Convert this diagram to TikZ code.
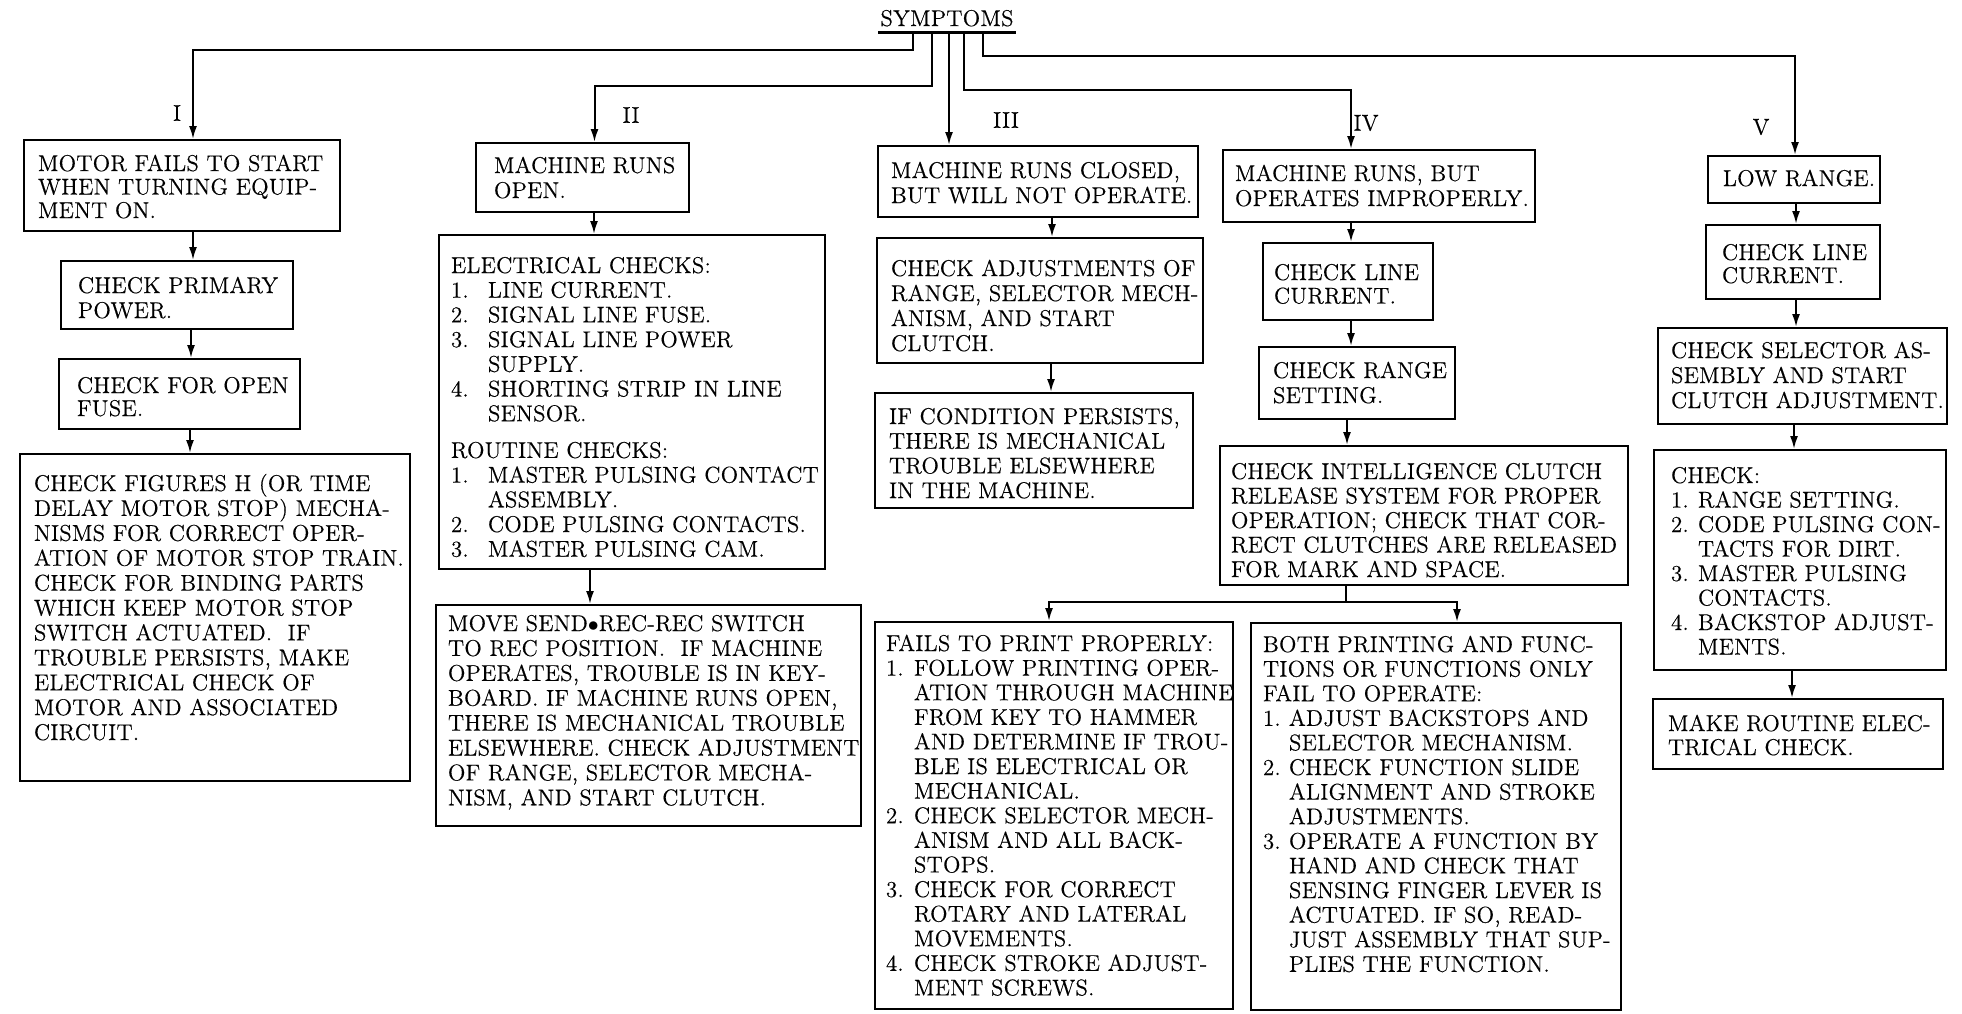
\documentclass[tikz,border=0pt]{standalone}
\usepackage{fontspec}
\setmainfont{Latin Modern Roman}[FakeBold=0.4, LetterSpace=1.2]
\usetikzlibrary{arrows.meta}
\newdimen\PX \PX=0.5pt
\newlength\ind
% W H dx dy(first baseline) baselineskip lines
\newcommand{\bt}[6]{\parbox[c][#2\PX][t]{#1\PX}{\fontsize{11.4pt}{#5\PX}\selectfont\vspace*{\dimexpr#4\PX-0.7\baselineskip\relax}\hspace*{#3\PX}\begin{tabular}[t]{@{}l@{}}#6\end{tabular}}}
\newcommand{\nm}[1]{\makebox[\ind][l]{#1}}
\newcommand{\cn}{\hspace*{\ind}}
\begin{document}
\begin{tikzpicture}[x=0.5pt,y=-0.5pt,
  bx/.style={draw, line width=1pt, inner sep=0pt, anchor=north west},
  arr/.style={line width=1pt, -{Latex[length=6.5pt,width=4pt]}},
  ln/.style={line width=1pt},
  lbl/.style={font=\fontsize{11.4pt}{13pt}\selectfont, inner sep=0pt}]
\useasboundingbox (0,0) rectangle (1962,1013);

% title
\node[lbl, anchor=base, minimum width=137\PX, text depth=0pt, inner ysep=6\PX] (sym) at (947,26) {SYMPTOMS};
\draw[line width=1.4pt] (sym.south west) -- (sym.south east);

% column I
\node[bx] (mot) at (23,139) {\bt{316}{91}{14}{31}{23.5}{MOTOR FAILS TO START\\WHEN TURNING EQUIP-\\MENT ON.}};
\node[bx] (pow) at (60,260) {\bt{232}{68}{17}{32}{25}{CHECK PRIMARY\\POWER.}};
\node[bx] (fuse) at (58,358) {\bt{241}{70}{18}{34}{23}{CHECK FOR OPEN\\FUSE.}};
\node[bx] (fig) at (19,453) {\bt{390}{327}{14}{37}{24.9}{CHECK FIGURES H (OR TIME\\DELAY MOTOR STOP) MECHA-\\NISMS FOR CORRECT OPER-\\ATION OF MOTOR STOP TRAIN.\\CHECK FOR BINDING PARTS\\WHICH KEEP MOTOR STOP\\SWITCH ACTUATED.\ \ IF\\TROUBLE PERSISTS, MAKE\\ELECTRICAL CHECK OF\\MOTOR AND ASSOCIATED\\CIRCUIT.}};

% column II
\node[bx] (open) at (475,142) {\bt{213}{69}{18}{30}{25}{MACHINE RUNS\\OPEN.}};
\setlength\ind{37\PX}
\node[bx] (elec) at (438,234) {\bt{386}{334}{12}{38}{24.7}{ELECTRICAL CHECKS:\\\nm{1.}LINE CURRENT.\\\nm{2.}SIGNAL LINE FUSE.\\\nm{3.}SIGNAL LINE POWER\\\cn SUPPLY.\\\nm{4.}SHORTING STRIP IN LINE\\\cn SENSOR.\\[12\PX]ROUTINE CHECKS:\\\nm{1.}MASTER PULSING CONTACT\\\cn ASSEMBLY.\\\nm{2.}CODE PULSING CONTACTS.\\\nm{3.}MASTER PULSING CAM.}};
\node[bx] (move) at (435,604) {\bt{425}{221}{12}{26}{24.9}{MOVE SEND$\bullet$REC-REC SWITCH\\TO REC POSITION.\ \ IF MACHINE\\OPERATES, TROUBLE IS IN KEY-\\BOARD. IF MACHINE RUNS OPEN,\\THERE IS MECHANICAL TROUBLE\\ELSEWHERE. CHECK ADJUSTMENT\\OF RANGE, SELECTOR MECHA-\\NISM, AND START CLUTCH.}};

% column III
\node[bx] (closed) at (877,145) {\bt{320}{71}{13}{32}{25}{MACHINE RUNS CLOSED,\\BUT WILL NOT OPERATE.}};
\node[bx] (adj) at (876,237) {\bt{326}{125}{14}{38}{25}{CHECK ADJUSTMENTS OF\\RANGE, SELECTOR MECH-\\ANISM, AND START\\CLUTCH.}};
\node[bx] (cond) at (874,392) {\bt{318}{115}{14}{31}{24.7}{IF CONDITION PERSISTS,\\THERE IS MECHANICAL\\TROUBLE ELSEWHERE\\IN THE MACHINE.}};

% column IV
\node[bx] (impr) at (1222,149) {\bt{312}{72}{12}{31}{25}{MACHINE RUNS, BUT\\OPERATES IMPROPERLY.}};
\node[bx] (linefour) at (1262,242) {\bt{170}{77}{11}{37}{23.5}{CHECK LINE\\CURRENT.}};
\node[bx] (rangefour) at (1258,346) {\bt{196}{72}{14}{31}{25}{CHECK RANGE\\SETTING.}};
\node[bx] (intel) at (1219,445) {\bt{408}{139}{11}{33}{24.5}{CHECK INTELLIGENCE CLUTCH\\RELEASE SYSTEM FOR PROPER\\OPERATION; CHECK THAT COR-\\RECT CLUTCHES ARE RELEASED\\FOR MARK AND SPACE.}};
\setlength\ind{28\PX}
\node[bx] (fails) at (874,621) {\bt{358}{387}{11}{29}{24.6}{FAILS TO PRINT PROPERLY:\\\nm{1.}FOLLOW PRINTING OPER-\\\cn ATION THROUGH MACHINE\\\cn FROM KEY TO HAMMER\\\cn AND DETERMINE IF TROU-\\\cn BLE IS ELECTRICAL OR\\\cn MECHANICAL.\\\nm{2.}CHECK SELECTOR MECH-\\\cn ANISM AND ALL BACK-\\\cn STOPS.\\\nm{3.}CHECK FOR CORRECT\\\cn ROTARY AND LATERAL\\\cn MOVEMENTS.\\\nm{4.}CHECK STROKE ADJUST-\\\cn MENT SCREWS.}};
\setlength\ind{26\PX}
\node[bx] (both) at (1250,622) {\bt{370}{387}{12}{29}{24.6}{BOTH PRINTING AND FUNC-\\TIONS OR FUNCTIONS ONLY\\FAIL TO OPERATE:\\\nm{1.}ADJUST BACKSTOPS AND\\\cn SELECTOR MECHANISM.\\\nm{2.}CHECK FUNCTION SLIDE\\\cn ALIGNMENT AND STROKE\\\cn ADJUSTMENTS.\\\nm{3.}OPERATE A FUNCTION BY\\\cn HAND AND CHECK THAT\\\cn SENSING FINGER LEVER IS\\\cn ACTUATED. IF SO, READ-\\\cn JUST ASSEMBLY THAT SUP-\\\cn PLIES THE FUNCTION.}};

% column V
\node[bx] (low) at (1707,155) {\bt{172}{47}{15}{30}{25}{LOW RANGE.}};
\node[bx] (linefive) at (1705,224) {\bt{174}{74}{16}{35}{23}{CHECK LINE\\CURRENT.}};
\node[bx] (selfive) at (1657,327) {\bt{289}{96}{13}{30}{25}{CHECK SELECTOR AS-\\SEMBLY AND START\\CLUTCH ADJUSTMENT.}};
\setlength\ind{27\PX}
\node[bx] (checkfive) at (1653,449) {\bt{292}{220}{17}{33}{24.5}{CHECK:\\\nm{1.}RANGE SETTING.\\\nm{2.}CODE PULSING CON-\\\cn TACTS FOR DIRT.\\\nm{3.}MASTER PULSING\\\cn CONTACTS.\\\nm{4.}BACKSTOP ADJUST-\\\cn MENTS.}};
\node[bx] (makefive) at (1652,698) {\bt{290}{70}{15}{32}{24}{MAKE ROUTINE ELEC-\\TRICAL CHECK.}};

% labels
\node[lbl] (lI) at (177,113) {I};
\node[lbl] (lII) at (631,115) {II};
\node[lbl] (lIII) at (1006,120) {III};
\node[lbl] (lIV) at (1366,123) {IV};
\node[lbl] (lV) at (1761,127) {V};

% trunk connectors
\path (sym.south) ++(-34,0) coordinate (s1);
\path (sym.south) ++(-15,0) coordinate (s2);
\path (sym.south) ++(2,0) coordinate (s3);
\path (sym.south) ++(17,0) coordinate (s4);
\path (sym.south) ++(36,0) coordinate (s5);
\path (mot.north) ++(11,0) coordinate (t1);
\path (open.north) ++(12,0) coordinate (t2);
\path (impr.north) ++(-28,0) coordinate (t4);
\path (low.north) ++(1,0) coordinate (t5);
\draw[arr] (s1) -- ++(0,18) -| (t1);
\draw[arr] (s2) -- ++(0,54) -| (t2);
\draw[arr] (s3) -- (s3 |- closed.north);
\draw[arr] (s4) -- ++(0,58) -| (t4);
\draw[arr] (s5) -- ++(0,24) -| (t5);

% inner connectors
\path (mot.south) ++(11,0) coordinate (c1);
\draw[arr] (c1) -- (c1 |- pow.north);
\path (pow.south) ++(14,0) coordinate (c2);
\draw[arr] (c2) -- (c2 |- fuse.north);
\path (fuse.south) ++(10.5,0) coordinate (c3);
\draw[arr] (c3) -- (c3 |- fig.north);
\path (open.south) ++(11.5,0) coordinate (c4);
\draw[arr] (c4) -- (c4 |- elec.north);
\path (elec.south) ++(-42,0) coordinate (c5);
\draw[arr] (c5) -- (c5 |- move.north);
\path (closed.south) ++(14,0) coordinate (c6);
\draw[arr] (c6) -- (c6 |- adj.north);
\path (adj.south) ++(11,0) coordinate (c7);
\draw[arr] (c7) -- (c7 |- cond.north);
\path (impr.south) ++(-28,0) coordinate (c8);
\draw[arr] (c8) -- (c8 |- linefour.north);
\path (linefour.south) ++(3,0) coordinate (c9);
\draw[arr] (c9) -- (c9 |- rangefour.north);
\path (rangefour.south) ++(-10,0) coordinate (c10);
\draw[arr] (c10) -- (c10 |- intel.north);
\path (low.south) ++(2,0) coordinate (c11);
\draw[arr] (c11) -- (c11 |- linefive.north);
\path (linefive.south) ++(3,0) coordinate (c12);
\draw[arr] (c12) -- (c12 |- selfive.north);
\path (selfive.south) ++(-8.5,0) coordinate (c13);
\draw[arr] (c13) -- (c13 |- checkfive.north);
\path (checkfive.south) ++(-8,0) coordinate (c14);
\draw[arr] (c14) -- (c14 |- makefive.north);

% branch below intelligence box
\path (intel.south) ++(-78,0) coordinate (bi);
\path (fails.north) ++(-5,0) coordinate (fa);
\path (both.north) ++(21,0) coordinate (ba);
\draw[ln] (bi) -- ++(0,16) coordinate (bk);
\draw[arr] (bk) -| (fa);
\draw[arr] (bk) -| (ba);
\end{tikzpicture}
\end{document}
